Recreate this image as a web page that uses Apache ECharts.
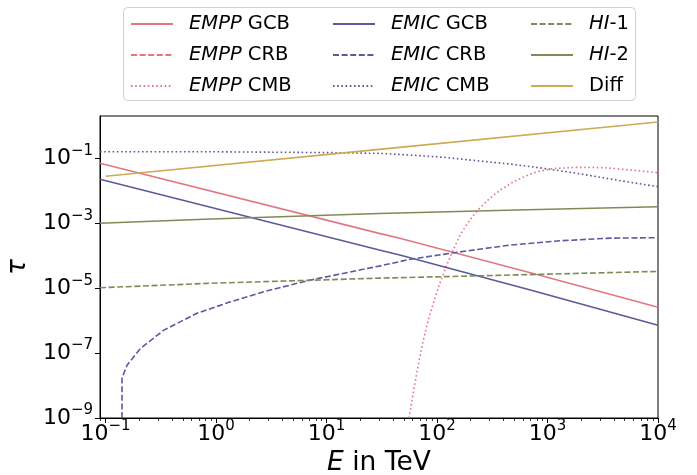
<!DOCTYPE html>
<html>
<head>
<meta charset="utf-8">
<script src="https://cdn.jsdelivr.net/npm/echarts@6/dist/echarts.min.js"></script>
<style>
  html, body { margin: 0; padding: 0; background: #ffffff; }
  #chart { width: 697px; height: 475px; }
</style>
</head>
<body>
<div id="chart"></div>
<script>
// Axis tick positions (energy in TeV, optical depth tau)
const energyTicks = [0.1, 1, 10, 100, 1000, 10000];
const energyMinorTicks = [
  0.09,
  0.2, 0.3, 0.4, 0.5, 0.6, 0.7, 0.8, 0.9,
  2, 3, 4, 5, 6, 7, 8, 9,
  20, 30, 40, 50, 60, 70, 80, 90,
  200, 300, 400, 500, 600, 700, 800, 900,
  2000, 3000, 4000, 5000, 6000, 7000, 8000, 9000
];
const tauTicks = [1e-9, 1e-7, 1e-5, 1e-3, 1e-1];

// EMPP, galactic centre background
const empGcbE   = [0.0891, 30, 46, 700, 10000];
const empGcbTau = [0.0706, 4.9e-4, 3.47e-4, 3.0e-5, 2.6e-6];

// EMPP, cosmic radio background (no optical depth in range)
const empCrbE   = [];
const empCrbTau = [];

// EMPP, cosmic microwave background
const empCmbE   = [55.8, 61.1, 67.8, 75.2, 83.4, 92.7, 106, 122, 140, 161, 186, 213, 245,
                   302, 372, 491, 670, 804, 1140, 1850, 3220, 5610, 10000];
const empCmbTau = [1e-9, 6.3e-9, 4.5e-8, 2.5e-7, 1.05e-6, 3.5e-6, 1.41e-5, 5.0e-5, 1.51e-4,
                   4.2e-4, 9.3e-4, 1.74e-3, 3.0e-3, 6.0e-3, 0.0105, 0.019, 0.031, 0.039,
                   0.049, 0.0531, 0.0519, 0.044, 0.0363];

// EMIC, galactic centre background
const emicGcbE   = [0.0891, 30, 46, 700, 10000];
const emicGcbTau = [0.0227, 1.5e-4, 1.05e-4, 8.8e-6, 7.2e-7];

// EMIC, cosmic radio background
const emicCrbE   = [0.141, 0.141, 0.157, 0.207, 0.337, 0.673, 1.35, 2.70, 7.13, 29.9, 57.3,
                    142, 460, 1310, 3700, 10000];
const emicCrbTau = [1e-9, 1.74e-8, 4.3e-8, 1.4e-7, 5.1e-7, 1.7e-6, 3.8e-6, 7.8e-6, 1.78e-5,
                    4.8e-5, 7.8e-5, 1.24e-4, 2.14e-4, 2.9e-4, 3.5e-4, 3.6e-4];

// EMIC, cosmic microwave background
const emicCmbE   = [0.0891, 1, 10.7, 29.9, 57.3, 115, 230, 460, 925, 1850, 3700, 10000];
const emicCmbTau = [0.161, 0.160, 0.151, 0.1435, 0.127, 0.108, 0.0851, 0.0671, 0.0495,
                    0.0347, 0.0232, 0.0134];

// Neutral hydrogen absorption
const hi1E   = [0.0891, 0.83, 29.9, 525, 10000];
const hi1Tau = [1.035e-5, 1.41e-5, 2.04e-5, 2.57e-5, 3.3e-5];
const hi2E   = [0.0891, 0.776, 29.9, 525, 10000];
const hi2Tau = [1.0e-3, 1.33e-3, 2.0e-3, 2.57e-3, 3.24e-3];

// Diffuse absorption
const diffE   = [0.1, 30, 10000];
const diffTau = [0.0281, 0.19, 1.33];

const cEmpp = '#e27784';
const cEmic = '#5a5a9c';
const cHi   = '#7b8d55';
const cDiff = '#cdab55';

const FONT = 'DejaVu Sans';
const zip = (xs, ys) => xs.map((x, i) => [x, ys[i]]);

function powLabel(v) {
  const e = Math.round(Math.log10(v));
  const exp = e < 0 ? '\u2212' + (-e) : String(e);
  return '{b|10}{s|' + exp + '}';
}
const powRich = {
  b: { fontFamily: FONT, fontSize: 22, lineHeight: 30, color: '#000' },
  s: { fontFamily: FONT, fontSize: 15, lineHeight: 16, verticalAlign: 'top', color: '#000' }
};

function legendName(name) {
  const parts = name.split(' ');
  if (name.startsWith('HI-')) return '{i|HI}-' + name.slice(3);
  if (parts.length === 2) return '{i|' + parts[0] + '} ' + parts[1];
  return name;
}

const lw = 1.6;
const dashed = [6, 2.6];
const dotted = [1.6, 2.6];

function lineSeries(name, xs, ys, color, type) {
  return {
    name: name,
    type: 'line',
    data: zip(xs, ys),
    symbol: 'none',
    showSymbol: false,
    clip: true,
    lineStyle: { color: color, width: lw, type: type },
    itemStyle: { color: color },
    emphasis: { disabled: true }
  };
}

const legendBase = {
  orient: 'vertical',
  top: 14,
  padding: 0,
  itemWidth: 42,
  itemHeight: 18,
  itemGap: 11,
  selectedMode: false,
  formatter: legendName,
  itemStyle: { opacity: 0 },
  textStyle: {
    fontFamily: FONT, fontSize: 19.5, color: '#000', padding: [0, 0, 0, 11],
    rich: { i: { fontFamily: FONT, fontSize: 19.5, fontStyle: 'italic', color: '#000' } }
  }
};

const chart = echarts.init(document.getElementById('chart'), null, { renderer: 'canvas' });
chart.setOption({
  animation: false,
  backgroundColor: '#ffffff',
  grid: {
    left: 100, right: 39, top: 116, bottom: 57,
    show: true, borderColor: '#000', borderWidth: 1,
    containLabel: false, outerBoundsMode: 'none'
  },
  graphic: [{
    type: 'rect',
    shape: { x: 123.5, y: 7.5, width: 512, height: 93, r: 4 },
    style: { fill: 'rgba(255,255,255,0.8)', stroke: '#d0d0d0', lineWidth: 1 },
    z: -1
  }],
  legend: [
    Object.assign({}, legendBase, { left: 130, data: ['EMPP GCB', 'EMPP CRB', 'EMPP CMB'] }),
    Object.assign({}, legendBase, { left: 332, data: ['EMIC GCB', 'EMIC CRB', 'EMIC CMB'] }),
    Object.assign({}, legendBase, { left: 530, data: ['HI-1', 'HI-2', 'Diff'] })
  ],
  xAxis: [{
    type: 'log', logBase: 10, min: 0.0891, max: 10000, position: 'bottom',
    name: '{i|E} in TeV', nameLocation: 'middle', nameGap: 29,
    nameTextStyle: {
      fontFamily: FONT, fontSize: 26.5, color: '#000',
      rich: { i: { fontFamily: FONT, fontSize: 26.5, fontStyle: 'italic', color: '#000' } }
    },
    axisLine: { show: true, onZero: false, lineStyle: { color: '#000', width: 1 } },
    axisTick: { show: true, inside: false, length: 5, customValues: energyTicks,
                lineStyle: { color: '#000', width: 1 } },
    axisLabel: { show: true, customValues: energyTicks, formatter: powLabel, margin: 1, rich: powRich },
    splitLine: { show: false }, minorTick: { show: false }
  }, {
    type: 'log', logBase: 10, min: 0.0891, max: 10000, position: 'bottom', offset: 0,
    axisLine: { show: false },
    axisTick: { show: true, inside: false, length: 3, customValues: energyMinorTicks,
                lineStyle: { color: '#000', width: 0.8 } },
    axisLabel: { show: false },
    splitLine: { show: false }
  }],
  yAxis: {
    type: 'log', logBase: 10, min: 1e-9, max: 2.03,
    name: '\u03c4', nameLocation: 'middle', nameGap: 53, nameRotate: 90,
    nameTextStyle: { fontFamily: FONT, fontSize: 26.5, fontStyle: 'italic', color: '#000' },
    axisLine: { show: true, onZero: false, lineStyle: { color: '#000', width: 1 } },
    axisTick: { show: true, inside: false, length: 5, customValues: tauTicks,
                lineStyle: { color: '#000', width: 1 } },
    axisLabel: { show: true, customValues: tauTicks, formatter: powLabel, margin: 7, rich: powRich },
    splitLine: { show: false }, minorTick: { show: false }
  },
  series: [
    lineSeries('EMPP GCB', empGcbE, empGcbTau, cEmpp, 'solid'),
    lineSeries('EMPP CRB', empCrbE, empCrbTau, cEmpp, dashed),
    lineSeries('EMPP CMB', empCmbE, empCmbTau, cEmpp, dotted),
    lineSeries('EMIC GCB', emicGcbE, emicGcbTau, cEmic, 'solid'),
    lineSeries('EMIC CRB', emicCrbE, emicCrbTau, cEmic, dashed),
    lineSeries('EMIC CMB', emicCmbE, emicCmbTau, cEmic, dotted),
    lineSeries('HI-1', hi1E, hi1Tau, cHi, dashed),
    lineSeries('HI-2', hi2E, hi2Tau, cHi, 'solid'),
    lineSeries('Diff', diffE, diffTau, cDiff, 'solid')
  ]
});
</script>
</body>
</html>
